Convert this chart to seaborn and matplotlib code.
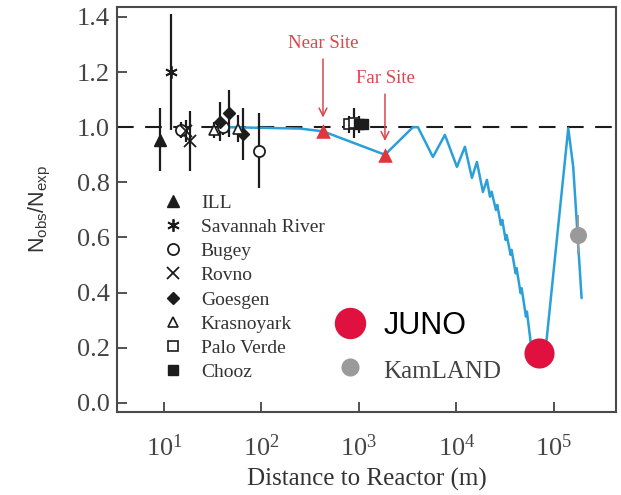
import matplotlib
matplotlib.use("Agg")
import matplotlib.pyplot as plt
from matplotlib.lines import Line2D
import numpy as np
import pandas as pd
import seaborn as sns

# ---- reactor experiments: distance (m), observed/expected ratio, error ----
ill_dist = [9.1]
ill_ratio = [0.955]
ill_err = [0.115]

srp_dist = [11.8]
srp_ratio = [1.20]
srp_err = [0.21]

bugey_dist = [15.0, 40.0, 95.0]
bugey_ratio = [0.99, 1.0, 0.915]
bugey_err = [0.03, 0.03, 0.135]

rovno_dist = [17.0, 18.5]
rovno_ratio = [0.985, 0.95]
rovno_err = [0.04, 0.11]

goesgen_dist = [37.5, 46.0, 65.0]
goesgen_ratio = [1.02, 1.05, 0.975]
goesgen_err = [0.07, 0.085, 0.095]

krasnoyark_dist = [33.0, 57.0]
krasnoyark_ratio = [0.99, 0.995]
krasnoyark_err = [0.03, 0.05]

paloverde_dist = [800.0, 890.0]
paloverde_ratio = [1.01, 1.015]
paloverde_err = [0.03, 0.055]

chooz_dist = [1000.0, 1100.0]
chooz_ratio = [1.01, 1.01]
chooz_err = [0.03, 0.02]

# Daya Bay near / far sites
dayabay_dist = [428.0, 1850.0]
dayabay_ratio = [0.985, 0.90]

juno_dist = [70000.0]
juno_ratio = [0.18]

kamland_dist = [176000.0]
kamland_ratio = [0.61]
kamland_err = [0.07]

# survival probability curve
curve_dist = [45, 248, 428, 1850, 3580, 4030, 5740, 7620, 10120, 12220, 14420,
              16220, 18700, 20560, 22080, 22970, 25410, 26230, 28590, 29510,
              31980, 32730, 35970, 36810, 40460, 41400, 45530, 46660, 51640,
              52850, 57670, 69500, 84120, 110600, 140300, 157700, 192300]
curve_ratio = [1.0, 0.995, 0.985, 0.90, 1.0, 1.0, 0.892, 0.972, 0.856, 0.929,
               0.816, 0.874, 0.765, 0.809, 0.748, 0.766, 0.700, 0.718, 0.646,
               0.664, 0.591, 0.609, 0.537, 0.555, 0.470, 0.489, 0.398, 0.416,
               0.313, 0.331, 0.222, 0.175, 0.229, 0.640, 0.996, 0.857, 0.38]

x_ticks = [10, 100, 1000, 10000, 100000]
y_ticks = [0.0, 0.2, 0.4, 0.6, 0.8, 1.0, 1.2, 1.4]

sns.set_style("ticks")
plt.rcParams["font.family"] = ["Liberation Serif", "DejaVu Serif"]

fig = plt.figure(figsize=(6.21, 4.95), dpi=100)
ax = fig.add_axes([0.1884, 0.1677, 0.8035, 0.8182])

BLUE = "#2b9fda"
RED = "#e3343a"
RED_TXT = "#d9474c"
JUNO_RED = "#e0103f"
GREY = "#9a9a9a"
INK = "#1c1c1c"

# reference line at unity
ax.axhline(1.0, color=INK, lw=1.5, ls=(0, (8, 5.5)), zorder=1)

curve = pd.DataFrame({"dist": curve_dist, "ratio": curve_ratio})
sns.lineplot(data=curve, x="dist", y="ratio", ax=ax, color=BLUE, lw=1.8,
             sort=False, estimator=None, zorder=2)

experiments = [
    ("ILL", ill_dist, ill_ratio, ill_err, dict(marker="^", mfc=INK, ms=8)),
    ("Savannah River", srp_dist, srp_ratio, srp_err,
     dict(marker=(6, 2, 0), mfc=INK, ms=9, mew=1.3)),
    ("Bugey", bugey_dist, bugey_ratio, bugey_err,
     dict(marker="o", mfc="white", ms=8, mew=1.3)),
    ("Rovno", rovno_dist, rovno_ratio, rovno_err,
     dict(marker="x", mfc=INK, ms=8, mew=1.3)),
    ("Goesgen", goesgen_dist, goesgen_ratio, goesgen_err,
     dict(marker="D", mfc=INK, ms=6.5)),
    ("Krasnoyark", krasnoyark_dist, krasnoyark_ratio, krasnoyark_err,
     dict(marker="^", mfc="white", ms=7.5, mew=1.2)),
    ("Palo Verde", paloverde_dist, paloverde_ratio, paloverde_err,
     dict(marker="s", mfc="white", ms=7, mew=1.2)),
    ("Chooz", chooz_dist, chooz_ratio, chooz_err,
     dict(marker="s", mfc=INK, ms=7)),
]

handles = []
for name, d, r, e, style in experiments:
    ax.errorbar(d, r, yerr=e, ls="none", color=INK, mec=INK, elinewidth=1.6,
                capsize=0, zorder=3, **style)
    handles.append(Line2D([], [], ls="none", color=INK, mec=INK, label=name,
                          **style))

# Daya Bay sites
sns.scatterplot(x=dayabay_dist, y=dayabay_ratio, ax=ax, marker="^", s=110,
                color=RED, edgecolor=RED, linewidth=0, zorder=4)

for label, d, r, ytxt in [("Near Site", dayabay_dist[0], dayabay_ratio[0], 1.305),
                          ("Far Site", dayabay_dist[1], dayabay_ratio[1], 1.178)]:
    ax.annotate(label, xy=(d, r + 0.05), xytext=(d, ytxt), ha="center",
                va="center", color=RED_TXT, fontsize=13.5,
                arrowprops=dict(arrowstyle="->", color=RED_TXT, lw=1.1,
                                shrinkA=3, shrinkB=0, mutation_scale=14))

# KamLAND and JUNO
ax.errorbar(kamland_dist, kamland_ratio, yerr=kamland_err, ls="none",
            color=GREY, elinewidth=1.5, capsize=0, zorder=4)
sns.scatterplot(x=kamland_dist, y=kamland_ratio, ax=ax, s=150, color=GREY,
                linewidth=0, zorder=5)
sns.scatterplot(x=juno_dist, y=juno_ratio, ax=ax, s=470, color=JUNO_RED,
                linewidth=0, zorder=5)

ax.set_xscale("log")
ax.set_xlim(3.3, 4.33e5)
ax.set_ylim(-0.033, 1.436)
ax.set_xticks(x_ticks)
ax.set_yticks(y_ticks)
ax.set_yticklabels([f"{v:.1f}" for v in y_ticks])
ax.minorticks_off()
ax.xaxis.set_minor_locator(matplotlib.ticker.NullLocator())

ax.tick_params(axis="both", direction="in", length=7, width=1.3,
               colors="#444444", labelsize=19)
ax.tick_params(axis="x", pad=16)
ax.tick_params(axis="y", pad=5)
for s in ax.spines.values():
    s.set_color("#4a4a4a")
    s.set_linewidth(1.5)

ax.set_xlabel("Distance to Reactor (m)", fontsize=18, color="#333333",
              labelpad=5)
ax.set_ylabel(r"N$_{\mathregular{obs}}$/N$_{\mathregular{exp}}$",
              fontsize=15.5, color="#333333", family="Liberation Sans",
              labelpad=17)

leg1 = ax.legend(handles=handles, loc="upper left", frameon=False,
                 bbox_to_anchor=(163.3 / 621, 1 - 194 / 495),
                 bbox_transform=fig.transFigure, borderpad=0, borderaxespad=0,
                 handlelength=1.0, handletextpad=0.93, labelspacing=0.34,
                 prop={"family": "Liberation Serif", "size": 14})
for t in leg1.get_texts():
    t.set_color("#333333")
ax.add_artist(leg1)

h2 = [Line2D([], [], ls="none", marker="o", ms=21.6, color=JUNO_RED,
             mec=JUNO_RED, label="JUNO"),
      Line2D([], [], ls="none", marker="o", ms=12, color=GREY, mec=GREY,
             label="KamLAND")]
leg2 = ax.legend(handles=h2, loc="upper left", frameon=False,
                 bbox_to_anchor=(333.0 / 621, 1 - 311 / 495),
                 bbox_transform=fig.transFigure, borderpad=0, borderaxespad=0,
                 handlelength=1.1, handletextpad=0.55, labelspacing=0.5,
                 prop={"family": "Liberation Sans", "size": 22})
t_juno, t_kam = leg2.get_texts()
t_juno.set_color("black")
t_kam.set_fontfamily("Liberation Serif")
t_kam.set_fontsize(18)
t_kam.set_color("#444444")

fig.savefig("out.png", dpi=100)
